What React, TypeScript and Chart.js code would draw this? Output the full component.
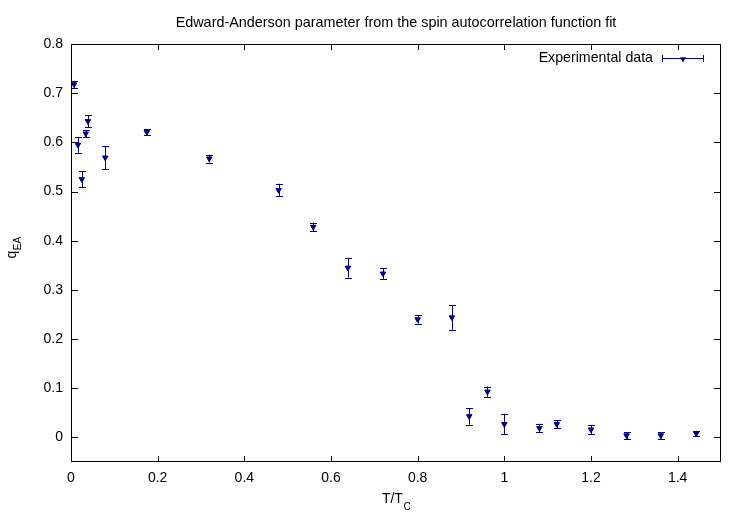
import React, { useEffect, useRef } from "react";
import { Chart, registerables } from "chart.js";

Chart.register(...registerables);

// ---- Data ----
const tValues = [0.007, 0.016, 0.025, 0.034, 0.039, 0.079, 0.175, 0.319, 0.479, 0.559, 0.639, 0.72, 0.8, 0.879, 0.919, 0.961, 1.0, 1.081, 1.121, 1.2, 1.282, 1.361, 1.443];
const qValues = [0.718, 0.595, 0.525, 0.618, 0.643, 0.569, 0.621, 0.567, 0.503, 0.428, 0.345, 0.333, 0.24, 0.244, 0.043, 0.093, 0.027, 0.019, 0.027, 0.016, 0.004, 0.004, 0.008];
const qErrors = [0.007, 0.016, 0.016, 0.0075, 0.012, 0.024, 0.006, 0.008, 0.013, 0.009, 0.02, 0.011, 0.0085, 0.025, 0.017, 0.0105, 0.021, 0.009, 0.008, 0.0095, 0.007, 0.0065, 0.0055];

const xTicks = [0, 0.2, 0.4, 0.6, 0.8, 1, 1.2, 1.4];
const xTickLabels = ["0", "0.2", "0.4", "0.6", "0.8", "1", "1.2", "1.4"];
const yTicks = [0, 0.1, 0.2, 0.3, 0.4, 0.5, 0.6, 0.7, 0.8];
const yTickLabels = ["0", "0.1", "0.2", "0.3", "0.4", "0.5", "0.6", "0.7", "0.8"];

const titleText = "Edward-Anderson parameter from the spin autocorrelation function fit";
const legendText = "Experimental data";

const COLOR = "#00008b";
const FONT = "'Liberation Sans', Arial, Helvetica, sans-serif";

function drawTriangleDown(ctx: CanvasRenderingContext2D, x: number, y: number, r: number) {
  ctx.beginPath();
  ctx.moveTo(x, y + r);
  ctx.lineTo(x - r * 0.866, y - r * 0.5);
  ctx.lineTo(x + r * 0.866, y - r * 0.5);
  ctx.closePath();
  ctx.fill();
}

const decorPlugin = {
  id: "decor",
  beforeDatasetsDraw(chart: any) {
    const ctx = chart.ctx as CanvasRenderingContext2D;
    const xs = chart.scales.x;
    const ys = chart.scales.y;
    ctx.save();
    ctx.strokeStyle = COLOR;
    ctx.lineWidth = 1;
    for (let i = 0; i < tValues.length; i++) {
      const px = Math.round(xs.getPixelForValue(tValues[i])) + 0.5;
      const top = ys.getPixelForValue(qValues[i] + qErrors[i]);
      const bot = ys.getPixelForValue(qValues[i] - qErrors[i]);
      ctx.beginPath();
      ctx.moveTo(px, top);
      ctx.lineTo(px, bot);
      ctx.moveTo(px - 3.5, Math.round(top) + 0.5);
      ctx.lineTo(px + 3.5, Math.round(top) + 0.5);
      ctx.moveTo(px - 3.5, Math.round(bot) + 0.5);
      ctx.lineTo(px + 3.5, Math.round(bot) + 0.5);
      ctx.stroke();
    }
    ctx.restore();
  },
  afterDraw(chart: any) {
    const ctx = chart.ctx as CanvasRenderingContext2D;
    const a = chart.chartArea;
    const xs = chart.scales.x;
    const ys = chart.scales.y;
    ctx.save();
    // frame
    ctx.strokeStyle = "#000";
    ctx.lineWidth = 1;
    ctx.strokeRect(a.left + 0.5, a.top + 0.5, a.right - a.left - 1, a.bottom - a.top - 1);
    // inward ticks, mirrored
    ctx.beginPath();
    for (const v of xTicks) {
      const px = Math.round(xs.getPixelForValue(v)) + 0.5;
      ctx.moveTo(px, a.bottom);
      ctx.lineTo(px, a.bottom - 6);
      ctx.moveTo(px, a.top);
      ctx.lineTo(px, a.top + 6);
    }
    for (const v of yTicks) {
      const py = Math.round(ys.getPixelForValue(v)) + 0.5;
      ctx.moveTo(a.left, py);
      ctx.lineTo(a.left + 7, py);
      ctx.moveTo(a.right, py);
      ctx.lineTo(a.right - 7, py);
    }
    ctx.stroke();

    // title
    ctx.fillStyle = "#000";
    ctx.font = `14.4px ${FONT}`;
    ctx.textAlign = "center";
    ctx.textBaseline = "alphabetic";
    ctx.fillText(titleText, (a.left + a.right) / 2, 27);

    // x axis title T/T_C
    ctx.textAlign = "left";
    ctx.font = `14px ${FONT}`;
    const main = "T/T";
    const wMain = ctx.measureText(main).width;
    ctx.font = `10px ${FONT}`;
    const sub = "C";
    const wSub = ctx.measureText(sub).width;
    const startX = (a.left + a.right) / 2 - (wMain + wSub) / 2;
    ctx.font = `14px ${FONT}`;
    ctx.fillText(main, startX, 503);
    ctx.font = `10px ${FONT}`;
    ctx.fillText(sub, startX + wMain + 0.5, 510);

    // y axis title q_EA
    ctx.save();
    ctx.font = `14px ${FONT}`;
    const wq = ctx.measureText("q").width;
    ctx.font = `10px ${FONT}`;
    const wea = ctx.measureText("EA").width;
    const cy = 248;
    ctx.translate(16, cy);
    ctx.rotate(-Math.PI / 2);
    const sx = -(wq + wea) / 2;
    ctx.font = `14px ${FONT}`;
    ctx.fillText("q", sx, 0);
    ctx.font = `10px ${FONT}`;
    ctx.fillText("EA", sx + wq + 0.5, 5);
    ctx.restore();

    // legend
    ctx.font = `14.2px ${FONT}`;
    ctx.textAlign = "right";
    ctx.textBaseline = "middle";
    ctx.fillStyle = "#000";
    ctx.fillText(legendText, 653, 58);
    ctx.strokeStyle = COLOR;
    ctx.fillStyle = COLOR;
    ctx.beginPath();
    ctx.moveTo(662, 58.5);
    ctx.lineTo(704, 58.5);
    ctx.moveTo(662.5, 55);
    ctx.lineTo(662.5, 62);
    ctx.moveTo(703.5, 55);
    ctx.lineTo(703.5, 62);
    ctx.stroke();
    drawTriangleDown(ctx, 683, 59, 3.4);
    ctx.restore();
  },
};

export default function App() {
  const canvasRef = useRef<HTMLCanvasElement | null>(null);

  useEffect(() => {
    if (!canvasRef.current) return;
    const data = tValues.map((t, i) => ({ x: t, y: qValues[i] }));
    const chart = new Chart(canvasRef.current, {
      type: "scatter",
      data: {
        datasets: [
          {
            label: legendText,
            data,
            backgroundColor: COLOR,
            borderColor: COLOR,
            borderWidth: 1,
            pointStyle: "triangle",
            rotation: 180,
            pointRadius: 3.2,
            pointHoverRadius: 3.2,
          },
        ],
      },
      options: {
        animation: false,
        responsive: true,
        maintainAspectRatio: false,
        layout: { padding: { left: 0, right: 26, top: 44, bottom: 0 } },
        plugins: {
          legend: { display: false },
          title: { display: false },
          tooltip: { enabled: false },
        },
        scales: {
          x: {
            type: "linear",
            min: 0,
            max: 1.5,
            grid: { display: false, drawTicks: false },
            border: { display: false },
            afterBuildTicks: (scale: any) => {
              scale.ticks = xTicks.map((v) => ({ value: v }));
            },
            afterFit: (scale: any) => {
              scale.height = 61;
            },
            ticks: {
              padding: 8,
              color: "#000",
              font: { family: FONT, size: 14 },
              maxRotation: 0,
              autoSkip: false,
              callback: (_v: any, i: number) => xTickLabels[i],
            },
          },
          y: {
            type: "linear",
            min: -0.05,
            max: 0.8,
            grid: { display: false, drawTicks: false },
            border: { display: false },
            afterBuildTicks: (scale: any) => {
              scale.ticks = yTicks.map((v) => ({ value: v }));
            },
            afterFit: (scale: any) => {
              scale.width = 71;
            },
            ticks: {
              padding: 8,
              color: "#000",
              font: { family: FONT, size: 14 },
              autoSkip: false,
              callback: (_v: any, i: number) => yTickLabels[i],
            },
          },
        },
      },
      plugins: [decorPlugin],
    });
    return () => chart.destroy();
  }, []);

  return (
    <div style={{ position: "absolute", left: 0, top: 0, width: 747, height: 523, background: "#fff" }}>
      <canvas ref={canvasRef} />
    </div>
  );
}
